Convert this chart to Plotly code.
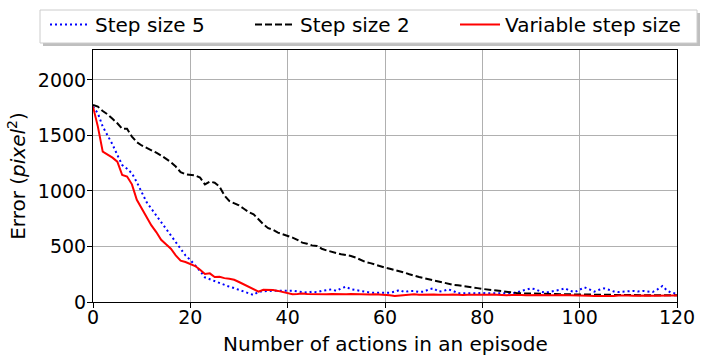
import plotly.graph_objects as go

steps = list(range(0, 121))

step5 = [1760, 1700, 1580, 1500, 1420, 1324, 1234, 1200, 1159, 1080,
         990, 900, 840, 780, 720, 660, 600, 540, 470, 420,
         378, 333, 280, 222, 205, 190, 170, 150, 138, 125,
         110, 100, 85, 63, 93, 98, 100, 102, 100, 102,
         102, 102, 95, 90, 84, 93, 88, 100, 105, 114,
         100, 123, 138, 115, 108, 100, 90, 84, 84, 84,
         84, 84, 93, 108, 90, 99, 99, 90, 93, 114,
         123, 93, 100, 114, 100, 78, 78, 82, 80, 78,
         82, 78, 80, 84, 80, 78, 80, 84, 100, 114,
         123, 114, 93, 84, 93, 96, 110, 123, 100, 90,
         108, 132, 114, 93, 110, 123, 110, 95, 90, 95,
         100, 100, 95, 100, 95, 90, 114, 144, 102, 80,
         78]

step2 = [1775, 1760, 1720, 1690, 1650, 1610, 1560, 1560, 1490, 1440,
         1410, 1390, 1370, 1345, 1320, 1290, 1260, 1220, 1170, 1150,
         1145, 1140, 1120, 1060, 1085, 1075, 1040, 960, 910, 890,
         870, 840, 810, 790, 740, 700, 665, 650, 625, 610,
         600, 580, 560, 535, 525, 510, 505, 480, 465, 450,
         440, 430, 425, 415, 400, 380, 360, 350, 335, 320,
         310, 300, 290, 275, 265, 250, 235, 225, 215, 205,
         195, 183, 172, 165, 155, 150, 145, 140, 135, 125,
         118, 112, 108, 102, 97, 93, 88, 82, 78, 78,
         78, 78, 76, 74, 72, 72, 70, 70, 68, 68,
         68, 66, 66, 65, 65, 64, 64, 64, 63, 63,
         63, 62, 62, 62, 62, 61, 61, 61, 61, 60,
         60]

variable = [1760, 1580, 1354, 1330, 1300, 1264, 1144, 1130, 1060, 920,
            840, 760, 690, 630, 560, 520, 480, 420, 372, 360,
            340, 324, 290, 252, 258, 225, 228, 215, 210, 200,
            180, 160, 140, 120, 93, 110, 112, 108, 100, 90,
            80, 70, 72, 76, 72, 70, 72, 68, 70, 72,
            70, 68, 70, 72, 70, 68, 66, 68, 70, 68,
            66, 60, 55, 58, 65, 68, 70, 66, 68, 70,
            68, 66, 64, 66, 68, 65, 64, 66, 65, 64,
            66, 65, 68, 64, 62, 60, 64, 66, 62, 60,
            62, 64, 62, 60, 58, 60, 62, 60, 58, 62,
            60, 58, 56, 55, 54, 52, 50, 54, 58, 60,
            58, 56, 58, 60, 58, 56, 58, 57, 56, 58,
            58]

x_ticks = [0, 20, 40, 60, 80, 100, 120]
y_ticks = [0, 500, 1000, 1500, 2000]

FONT = "DejaVu Sans"
FS = 20
TFS = 19

# plot-area geometry in pixels (used only to place layout elements)
W, H = 711, 361
L, R, T, B = 93, 34, 50, 59
PW, PH = W - L - R, H - T - B


def px_x(p):
    return (p - L) / PW


def px_y(p):
    return (H - B - p) / PH


fig = go.Figure()
fig.add_trace(go.Scatter(x=steps, y=step5, mode="lines", name="Step size 5",
                         line=dict(color="#0000ff", width=2, dash="2px,3px"),
                         legend="legend"))
fig.add_trace(go.Scatter(x=steps, y=step2, mode="lines", name="Step size 2",
                         line=dict(color="#000000", width=2, dash="7px,3px"),
                         legend="legend"))
fig.add_trace(go.Scatter(x=steps, y=variable, mode="lines", name="Variable step size",
                         line=dict(color="#ff0000", width=2),
                         legend="legend2"))

axis_common = dict(showgrid=True, gridcolor="#b0b0b0", gridwidth=1,
                   showline=True, linecolor="black", linewidth=1, mirror=True,
                   ticks="outside", ticklen=5, tickcolor="black",
                   tickfont=dict(family=FONT, size=TFS, color="black"),
                   zeroline=False, automargin=False)

leg_common = dict(orientation="h", yanchor="bottom", y=px_y(44),
                  bgcolor="rgba(0,0,0,0)", borderwidth=0,
                  font=dict(family=FONT, size=FS), itemwidth=40,
                  tracegroupgap=0)

# legend frame (with a soft shadow) drawn as shapes
box_l, box_r, box_t, box_b = 40, 697, 10, 43
shapes = [
    dict(type="rect", xref="paper", yref="paper", layer="below",
         x0=px_x(box_l + 3), x1=px_x(box_r + 3), y0=px_y(box_b + 3), y1=px_y(box_t + 3),
         line=dict(width=0), fillcolor="rgba(0,0,0,0.25)"),
    dict(type="rect", xref="paper", yref="paper", layer="below",
         x0=px_x(box_l), x1=px_x(box_r), y0=px_y(box_b), y1=px_y(box_t),
         line=dict(color="#cccccc", width=1), fillcolor="white"),
]

fig.update_layout(
    width=W, height=H,
    margin=dict(l=L, r=R, t=T, b=B, autoexpand=False),
    paper_bgcolor="white", plot_bgcolor="white",
    font=dict(family=FONT, size=FS, color="black"),
    xaxis=dict(range=[0, 120], tickvals=x_ticks, ticklabelstandoff=-7, **axis_common),
    yaxis=dict(range=[0, 2270], tickvals=y_ticks, ticklabelstandoff=-3,
               title=dict(text="Error (<i>pixel</i><sup>2</sup>)",
                          font=dict(family=FONT, size=FS), standoff=6),
               **axis_common),
    legend=dict(x=px_x(45), xanchor="left", entrywidth=150, entrywidthmode="pixels",
                **leg_common),
    legend2=dict(x=px_x(455), xanchor="left", **leg_common),
    shapes=shapes,
    annotations=[dict(text="Number of actions in an episode", xref="paper", yref="paper",
                      x=0.5, y=px_y(344), xanchor="center", yanchor="middle",
                      showarrow=False, font=dict(family=FONT, size=FS))],
    showlegend=True,
)

fig.write_html("out.html")
